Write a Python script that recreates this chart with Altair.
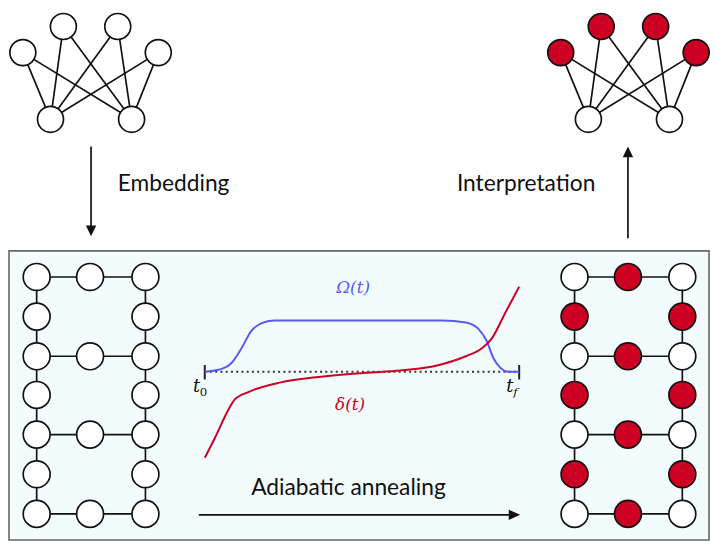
import altair as alt
import pandas as pd

# ---------------- data (diagram coordinates, in reference pixels) ----------------
# bipartite graph: 4 upper nodes, 2 lower nodes
graph_x = [19, 60, 115, 156, 47, 129]
graph_y = [44, 17, 17, 44, 113, 113]
graph_upper = [0, 1, 2, 3]
graph_lower = [4, 5]
right_graph_shift = 544
graph_right_state = ["red", "red", "red", "red", "white", "white"]

# ladder / lattice
lattice_rows = [276, 317, 358, 398, 439, 480, 521]
lattice_cols_left = [33, 87, 143]
lattice_cols_right = [577, 631, 686]
lattice_mid_rows = [0, 2, 4, 6]  # rows that have a middle node

# Omega(t) pulse
omega_x = [203, 217, 230, 240, 250, 260, 273, 347, 443, 467, 480, 488, 495, 502, 510, 521]
omega_y = [374, 372, 365, 350, 332, 324, 321, 321, 321, 323, 330, 342, 360, 370, 374, 374]
# delta(t) detuning
delta_x = [203, 213, 227, 233, 247, 280, 313, 353, 397, 440, 467, 483, 493, 507, 521]
delta_y = [463, 443, 413, 403, 395, 385, 380, 376, 373, 367, 358, 350, 340, 313, 286]

t0_x, tf_x, t_axis_y = 203, 521, 374

box = dict(x0=5, x1=713, y0=249, y1=548)

RED = "#cc0022"
BLUE = "#5a5af2"

# ---------------- build tables ----------------
nodes = []
edges = []
# top graphs
for shift, states in [(0, ["white"] * 6), (right_graph_shift, graph_right_state)]:
    for i in range(6):
        nodes.append(dict(x=graph_x[i] + shift, y=graph_y[i], fill=states[i], size=690))
    for u in graph_upper:
        for l in graph_lower:
            edges.append(dict(x=graph_x[u] + shift, y=graph_y[u], x2=graph_x[l] + shift, y2=graph_y[l]))

# lattices
for cols, colored in [(lattice_cols_left, False), (lattice_cols_right, True)]:
    for r, ry in enumerate(lattice_rows):
        for c in (0, 2):
            red = colored and (r % 2 == 1)
            nodes.append(dict(x=cols[c], y=ry, fill=RED if red else "white", size=740))
        if r in lattice_mid_rows:
            nodes.append(dict(x=cols[1], y=ry, fill=RED if colored else "white", size=740))
            edges.append(dict(x=cols[0], y=ry, x2=cols[2], y2=ry))
        if r < len(lattice_rows) - 1:
            for c in (0, 2):
                edges.append(dict(x=cols[c], y=ry, x2=cols[c], y2=lattice_rows[r + 1]))

nodes = pd.DataFrame(nodes)
nodes["fill"] = nodes["fill"].replace({"red": RED})
edges = pd.DataFrame(edges)

curves = pd.concat([
    pd.DataFrame(dict(x=omega_x, y=omega_y, name="omega", i=range(len(omega_x)))),
    pd.DataFrame(dict(x=delta_x, y=delta_y, name="delta", i=range(len(delta_x)))),
])

xs = alt.Scale(domain=[4, 715], nice=False, zero=False)
ys = alt.Scale(domain=[1, 549], nice=False, zero=False, reverse=True)


def X(f="x"):
    return alt.X(f"{f}:Q", scale=xs, axis=None)


def Y(f="y"):
    return alt.Y(f"{f}:Q", scale=ys, axis=None)


box_df = pd.DataFrame([dict(x=box["x0"], x2=box["x1"], y=box["y0"], y2=box["y1"])])
box_layer = alt.Chart(box_df).mark_rect(fill="#f3fcfd", stroke="#666666", strokeWidth=1.6).encode(
    x=X(), x2="x2", y=Y(), y2="y2")

edge_layer = alt.Chart(edges).mark_rule(color="#111111", strokeWidth=1.7).encode(
    x=X(), x2="x2", y=Y(), y2="y2")

node_layer = alt.Chart(nodes).mark_point(shape="circle", filled=True, stroke="#111111",
                                         strokeWidth=1.7, opacity=1).encode(
    x=X(), y=Y(), fill=alt.Fill("fill:N", scale=None), size=alt.Size("size:Q", scale=None))

# time axis: dotted line and end ticks
axis_df = pd.DataFrame([dict(x=t0_x, x2=tf_x, y=t_axis_y)])
axis_layer = alt.Chart(axis_df).mark_rule(color="#333333", strokeWidth=2.2, strokeDash=[2, 3.3]).encode(
    x=X(), x2="x2", y=Y())
ticks_df = pd.DataFrame([dict(x=t0_x, y=t_axis_y - 7, y2=t_axis_y + 8), dict(x=tf_x, y=t_axis_y - 7, y2=t_axis_y + 8)])
ticks_layer = alt.Chart(ticks_df).mark_rule(color="#222222", strokeWidth=2).encode(
    x=X(), y=Y(), y2="y2")

curve_layer = alt.Chart(curves).mark_line(interpolate="monotone", strokeWidth=2).encode(
    x=X(), y=Y(), order="i:Q",
    color=alt.Color("name:N", scale=alt.Scale(domain=["omega", "delta"], range=[BLUE, RED]), legend=None))

# arrows
arrow_lines = pd.DataFrame([
    dict(x=88, y=141, x2=88, y2=228),
    dict(x=631, y=150, x2=631, y2=236),
    dict(x=197, y=522, x2=516, y2=522),
])
arrow_line_layer = alt.Chart(arrow_lines).mark_rule(color="#111111", strokeWidth=1.7).encode(
    x=X(), x2="x2", y=Y(), y2="y2")

heads = [
    (88, 234, "M-1,-2.1L1,-2.1L0,0Z"),
    (631, 141, "M-1,2.1L1,2.1L0,0Z"),
    (522, 522, "M-2.2,-1L-2.2,1L0,0Z"),
]
head_layers = [
    alt.Chart(pd.DataFrame([dict(x=hx, y=hy)])).mark_point(
        shape=path, filled=True, color="#111111", size=110, opacity=1).encode(x=X(), y=Y())
    for hx, hy, path in heads
]

# texts
sans_labels = pd.DataFrame([
    dict(x=115, y=187, t="Embedding"),
    dict(x=458, y=187, t="Interpretation"),
    dict(x=250, y=501, t="Adiabatic annealing"),
])
sans_layer = alt.Chart(sans_labels).mark_text(align="left", baseline="alphabetic", font="Lato",
                                              fontSize=23, color="#111111").encode(
    x=X(), y=Y(), text="t:N")


def text_layer(rows, size, color, align="center", style="italic"):
    return alt.Chart(pd.DataFrame(rows)).mark_text(
        align=align, baseline="alphabetic", font="DejaVu Serif", fontStyle=style,
        fontSize=size, color=color).encode(x=X(), y=Y(), text="t:N")


omega_label = [dict(x=353, y=293, t="Ω(t)")]
delta_label = [dict(x=350, y=414, t="δ(t)")]
t_main = [dict(x=191, y=395, t="t"), dict(x=508, y=395, t="t")]
t_sub0 = [dict(x=198, y=399, t="0")]
t_subf = [dict(x=515, y=399, t="f")]

math_layers = [
    text_layer(omega_label, 17, BLUE),
    text_layer(delta_label, 17, RED),
    text_layer(t_main, 18, "#111111", align="left"),
    text_layer(t_sub0, 12, "#111111", align="left", style="normal"),
    text_layer(t_subf, 12, "#111111", align="left"),
]

chart = alt.layer(
    box_layer, edge_layer, node_layer, axis_layer, ticks_layer, curve_layer,
    arrow_line_layer, *head_layers, sans_layer, *math_layers
).properties(
    width=711, height=536, padding=0, autosize=alt.AutoSizeParams(type="none"), background="white"
).configure_view(stroke=None)

chart.save("out.html", embed_options={"renderer": "svg", "actions": False})
